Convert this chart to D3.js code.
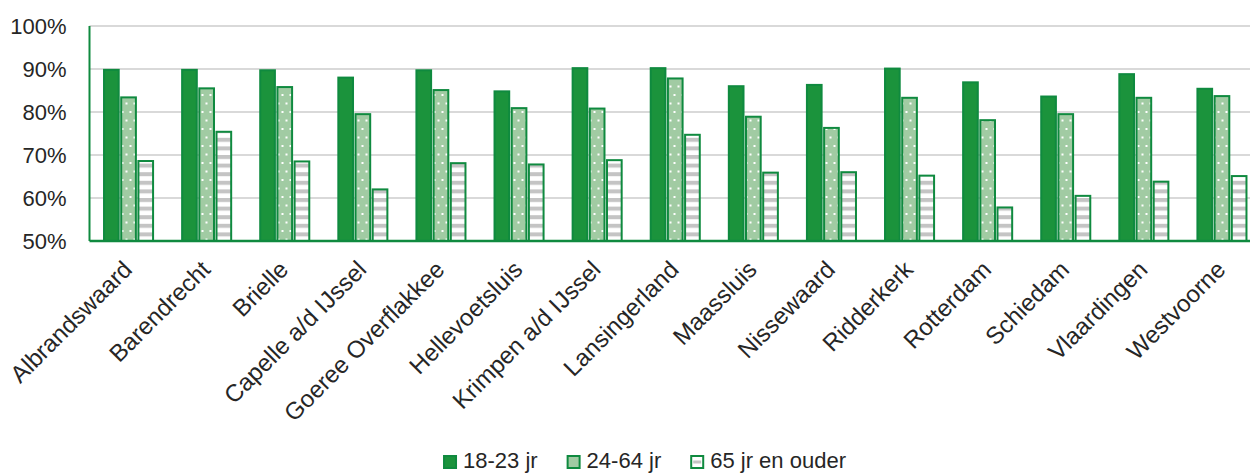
<!DOCTYPE html>
<html>
<head>
<meta charset="utf-8">
<script src="https://cdn.jsdelivr.net/npm/d3@7"></script>
<style>
  body { margin: 0; background: #fff; }
  svg text { font-family: "Liberation Sans", Arial, sans-serif; fill: #262626; }
</style>
</head>
<body>
<div id="chart"></div>
<script>
// gemeenten en percentages per leeftijdsgroep
const gemeenten = ["Albrandswaard", "Barendrecht", "Brielle", "Capelle a/d IJssel", "Goeree Overflakkee",
  "Hellevoetsluis", "Krimpen a/d IJssel", "Lansingerland", "Maassluis", "Nissewaard",
  "Ridderkerk", "Rotterdam", "Schiedam", "Vlaardingen", "Westvoorne"]
const reeksen = ["18-23 jr", "24-64 jr", "65 jr en ouder"]
const jong = [89.8, 89.8, 89.7, 88.0, 89.7, 84.8, 90.2, 90.2, 86.0, 86.3, 90.1, 86.9, 83.6, 88.8, 85.4]
const midden = [83.4, 85.5, 85.8, 79.5, 85.1, 80.9, 80.8, 87.8, 78.9, 76.3, 83.3, 78.1, 79.5, 83.3, 83.7]
const oud = [68.6, 75.4, 68.5, 62.0, 68.1, 67.8, 68.8, 74.7, 65.9, 66.0, 65.2, 57.8, 60.5, 63.8, 65.1]
const yTicks = [50, 60, 70, 80, 90, 100]

const W = 1250, H = 474
const margin = { top: 26, left: 89.5, bottom: 233 }
const plotW = 1171.5
const plotH = 241 - margin.top

const groen = "#1b933c", rand = "#0f8a3f", licht = "#a1cba3"

const svg = d3.select("#chart").append("svg")
  .attr("width", W).attr("height", H)

// patronen
const defs = svg.append("defs")
const dots = defs.append("pattern").attr("id", "dots")
  .attr("patternUnits", "userSpaceOnUse").attr("width", 8).attr("height", 17)
dots.append("rect").attr("width", 8).attr("height", 17).attr("fill", licht)
dots.append("rect").attr("x", 0).attr("y", 0).attr("width", 2).attr("height", 2).attr("fill", "#fff")
dots.append("rect").attr("x", 4).attr("y", 8.5).attr("width", 2).attr("height", 2).attr("fill", "#fff")

const stripes = defs.append("pattern").attr("id", "stripes")
  .attr("patternUnits", "userSpaceOnUse").attr("width", 8).attr("height", 8.6)
stripes.append("rect").attr("width", 8).attr("height", 8.6).attr("fill", "#fff")
stripes.append("rect").attr("y", 0).attr("width", 8).attr("height", 4).attr("fill", "#c4c4c4")

const fills = [groen, "url(#dots)", "url(#stripes)"]

const g = svg.append("g").attr("transform", "translate(" + margin.left + "," + margin.top + ")")

const x = d3.scaleBand().domain(gemeenten).range([0, plotW])
const y = d3.scaleLinear().domain([50, 100]).range([plotH, 0])

// rasterlijnen
g.selectAll(".grid").data(yTicks.slice(1)).enter().append("line")
  .attr("x1", 0).attr("x2", plotW)
  .attr("y1", d => y(d)).attr("y2", d => y(d))
  .attr("stroke", "#d9d9d9").attr("stroke-width", 2)

// y labels
g.selectAll(".ylab").data(yTicks).enter().append("text")
  .attr("x", -23).attr("y", d => y(d)).attr("dy", "0.35em")
  .attr("text-anchor", "end").style("font-size", "22px")
  .text(d => d + "%")

// staven
const bw = x.bandwidth() * 0.188, gap = 2.5
const data = [jong, midden, oud]
data.forEach((serie, s) => {
  g.selectAll(".bar" + s).data(serie).enter().append("rect")
    .attr("x", (d, i) => x(gemeenten[i]) + x.bandwidth() / 2 - 1.5 * bw - gap + s * (bw + gap))
    .attr("y", d => y(d))
    .attr("width", bw)
    .attr("height", d => plotH - y(d))
    .attr("fill", fills[s])
    .attr("stroke", rand).attr("stroke-width", 2)
})

// assen
g.append("line").attr("x1", 0).attr("x2", 0).attr("y1", 0).attr("y2", plotH)
  .attr("stroke", rand).attr("stroke-width", 2)
g.append("line").attr("x1", 0).attr("x2", plotW).attr("y1", plotH).attr("y2", plotH)
  .attr("stroke", rand).attr("stroke-width", 2.5)

// x labels
g.selectAll(".xlab").data(gemeenten).enter().append("text")
  .attr("text-anchor", "end").style("font-size", "24px")
  .attr("transform", d => "translate(" + (x(d) + x.bandwidth() / 2 + 5) + "," + (plotH + 30) + ") rotate(-45)")
  .text(d => d)

// legenda
const leg = svg.append("g")
const items = leg.selectAll(".item").data(reeksen).enter().append("g")
items.append("rect").attr("width", 12).attr("height", 12).attr("y", -12)
  .attr("fill", (d, i) => i === 0 ? groen : i === 1 ? licht : "#fff")
  .attr("stroke", rand).attr("stroke-width", 2)
items.filter((d, i) => i === 2).append("rect")
  .attr("x", 2).attr("y", -7.5).attr("width", 8).attr("height", 3).attr("fill", "#c4c4c4")
items.append("text").attr("x", 19).style("font-size", "22px").text(d => d)
let pos = 0
const widths = []
items.each(function () { widths.push(19 + d3.select(this).select("text").node().getComputedTextLength()) })
const total = d3.sum(widths) + 30 * (widths.length - 1)
let startX = 645 - total / 2
items.attr("transform", (d, i) => {
  const t = "translate(" + (startX + pos) + ",468)"
  pos += widths[i] + 30
  return t
})
</script>
</body>
</html>
